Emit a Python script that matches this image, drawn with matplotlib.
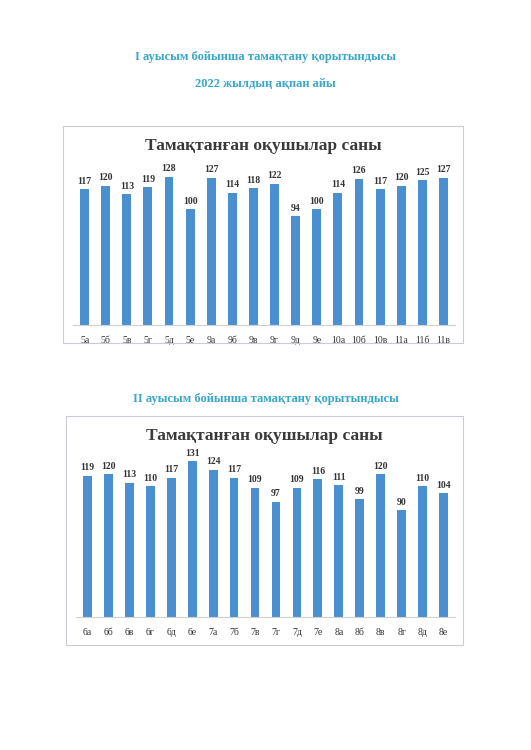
import matplotlib

matplotlib.use("Agg")

import matplotlib.pyplot as plt  # noqa: E402
from matplotlib.patches import Rectangle  # noqa: E402

classes_1 = ["5а", "5б", "5в", "5г", "5д", "5е", "9а", "9б", "9в", "9г",
             "9д", "9е", "10а", "10б", "10в", "11а", "11б", "11в"]
values_1 = [117, 120, 113, 119, 128, 100, 127, 114, 118, 122,
            94, 100, 114, 126, 117, 120, 125, 127]

classes_2 = ["6а", "6б", "6в", "6г", "6д", "6е", "7а", "7б", "7в", "7г",
             "7д", "7е", "8а", "8б", "8в", "8г", "8д", "8е"]
values_2 = [119, 120, 113, 110, 117, 131, 124, 117, 109, 97,
            109, 116, 111, 99, 120, 90, 110, 104]

BAR = "#4a8fcf"
HEAD = "#3aa6c9"
INK = "#333333"
FONT = "Liberation Serif"
W, H = 531, 750

fig = plt.figure(figsize=(W / 100, H / 100), dpi=100)


def px(x0, y0, x1, y1):
    # pixel box (top-left origin) -> figure fraction rect
    return [x0 / W, 1 - y1 / H, (x1 - x0) / W, (y1 - y0) / H]


def chart(frame, plot, classes, values, ymax):
    fig.patches.append(Rectangle((frame[0] / W, 1 - frame[3] / H),
                                 (frame[2] - frame[0]) / W, (frame[3] - frame[1]) / H,
                                 transform=fig.transFigure, fill=False,
                                 edgecolor="#c9ccd4", linewidth=0.8))
    fig.text((frame[0] + frame[2]) / 2 / W, 1 - (frame[1] + 20) / H,
             "Тамақтанған оқушылар саны", ha="center", va="center",
             family=FONT, fontsize=12.5, fontweight="bold", color="#3a3a3a")
    ax = fig.add_axes(px(*plot))
    xs = range(len(values))
    ax.bar(xs, values, width=0.42, color=BAR)
    for x, v in zip(xs, values):
        ax.text(x, v + 3, str(v), ha="center", va="bottom", family=FONT,
                fontsize=7, fontweight="bold", color=INK)
    ax.set_xticks(list(xs))
    ax.set_xticklabels(classes, family=FONT, fontsize=7, color=INK)
    ax.set_xlim(-0.55, len(values) - 0.45)
    ax.set_ylim(0, ymax)
    ax.set_yticks([])
    for s in ("top", "right", "left"):
        ax.spines[s].set_visible(False)
    ax.spines["bottom"].set_color("#d0d0d0")
    ax.tick_params(axis="x", length=0, pad=8)


fig.text(0.5, 1 - 57 / H, "I ауысым бойынша тамақтану қорытындысы", ha="center",
         va="center", family=FONT, fontsize=9, fontweight="bold", color=HEAD)
fig.text(0.5, 1 - 84 / H, "2022 жылдың ақпан айы", ha="center",
         va="center", family=FONT, fontsize=9, fontweight="bold", color=HEAD)
fig.text(0.5, 1 - 399 / H, "II ауысым бойынша тамақтану қорытындысы", ha="center",
         va="center", family=FONT, fontsize=9, fontweight="bold", color=HEAD)

chart((63, 126, 463, 343), (73, 150, 455, 325), classes_1, values_1, 151)
chart((66, 416, 463, 645), (76, 440, 455, 617), classes_2, values_2, 149)

fig.savefig("out.png", facecolor="white")
